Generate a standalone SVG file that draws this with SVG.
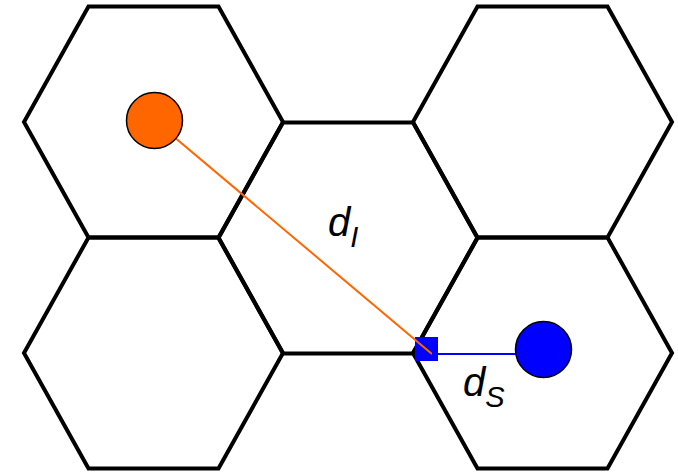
<svg xmlns="http://www.w3.org/2000/svg" width="678" height="472" viewBox="0 0 678 472">
<style>
.hex{fill:none;stroke:#000;stroke-width:4;stroke-linejoin:miter}
.lbl{font-family:"Liberation Sans",Arial,sans-serif;font-style:italic;fill:#000}
</style>
<rect width="678" height="472" fill="#fff"/>
<g id="hex-top-left"><polygon class="hex" points="88.5,6.5 218.5,6.5 283,122 218.5,237.5 88.5,237.5 24,122"/></g>
<g id="hex-bottom-left"><polygon class="hex" points="88.5,237.5 218.5,237.5 283,353 218.5,468.5 88.5,468.5 24,353"/></g>
<g id="hex-middle"><polygon class="hex" points="283,122.5 413,122.5 477.5,238 413,353.5 283,353.5 218.5,238"/></g>
<g id="hex-top-right"><polygon class="hex" points="477.5,6.5 607.5,6.5 672,122 607.5,237.5 477.5,237.5 413,122"/></g>
<g id="hex-bottom-right"><polygon class="hex" points="477.5,237.5 607.5,237.5 672,353 607.5,468.5 477.5,468.5 413,353"/></g>
<g id="connectors">
<rect x="415" y="337" width="23" height="24" fill="#0000ff"/>
<line x1="154.5" y1="120.5" x2="432" y2="354" stroke="#ff6600" stroke-width="2"/>
<line x1="432" y1="354" x2="516" y2="354" stroke="#0000ff" stroke-width="2"/>
</g>
<g id="interferer"><circle cx="154.5" cy="120.5" r="28" fill="#ff6600" stroke="#000" stroke-width="1.5"/></g>
<g id="serving"><circle cx="543.5" cy="349.5" r="28" fill="#0000ff" stroke="#000" stroke-width="1.5"/></g>
<g id="label-dI"><text class="lbl" x="328" y="236" font-size="40">d<tspan font-size="29" dy="11">I</tspan></text></g>
<g id="label-dS"><text class="lbl" x="463" y="396" font-size="40">d<tspan font-size="29" dy="11">S</tspan></text></g>
</svg>
